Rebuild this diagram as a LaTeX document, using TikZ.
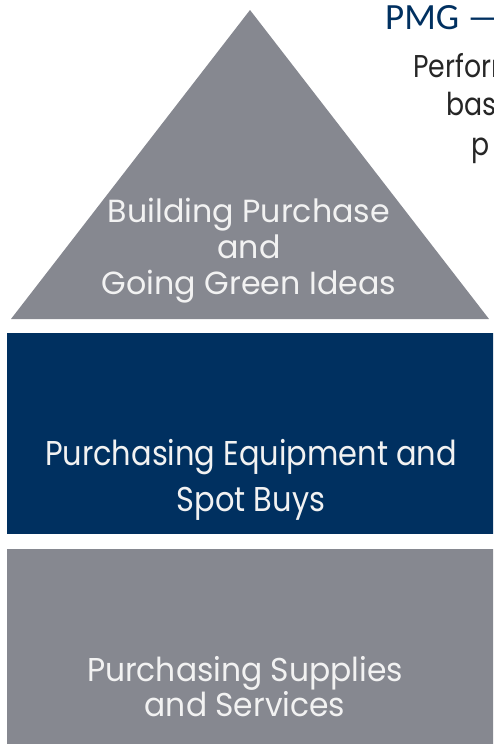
\documentclass[tikz,border=0pt]{standalone}
\usepackage{fontspec}
\newfontfamily\pyrfont{Poppins}
\newfontfamily\headfont{Carlito}
\definecolor{pyrgray}{HTML}{868890}
\definecolor{pyrnavy}{HTML}{003060}
\definecolor{labelwhite}{HTML}{F2F2F2}
\tikzstyle{tierlabel}=[text=labelwhite, align=center, inner sep=0pt]
\tikzstyle{sidetext}=[anchor=base west, inner sep=0pt, xscale=0.85, text=black!85,
  font=\pyrfont\fontsize{31.5}{39}\selectfont]

\begin{document}
\begin{tikzpicture}[x=1pt,y=-1pt]
\useasboundingbox (0,0) rectangle (493,744);
\clip (0,0) rectangle (493,744);
% the three tiers
\fill[pyrgray] (250,10) -- (489,319) -- (11,319) -- cycle;
\fill[pyrnavy] (7,333) rectangle (500,534);
\fill[pyrgray] (7,549) rectangle (500,750);
% tier labels
\node[tierlabel, xscale=0.99, font=\pyrfont\fontsize{32}{36}\selectfont] (toplabel) at (249,251)
  {Building Purchase\\and\\Going Green Ideas};
\node[tierlabel, xscale=0.885, font=\pyrfont\fontsize{34.4}{46}\selectfont] (midlabel) at (251,480)
  {Purchasing Equipment and\\Spot Buys};
\node[tierlabel, xscale=0.95, font=\pyrfont\fontsize{33}{33}\selectfont] (lowlabel) at (245,687)
  {Purchasing Supplies\\and Services};
% heading at the right, cut off by the edge
\node[anchor=base west, inner sep=0pt, text=pyrnavy, font=\headfont\fontsize{37}{37}\selectfont]
  (pmg) at (385,29) {PMG —};
\node[sidetext] (perf) at (413,77) {Perform};
\node[sidetext] (based) at (446,115) {base};
\node[sidetext] (pline) at (471,155) {p};
\end{tikzpicture}
\end{document}
